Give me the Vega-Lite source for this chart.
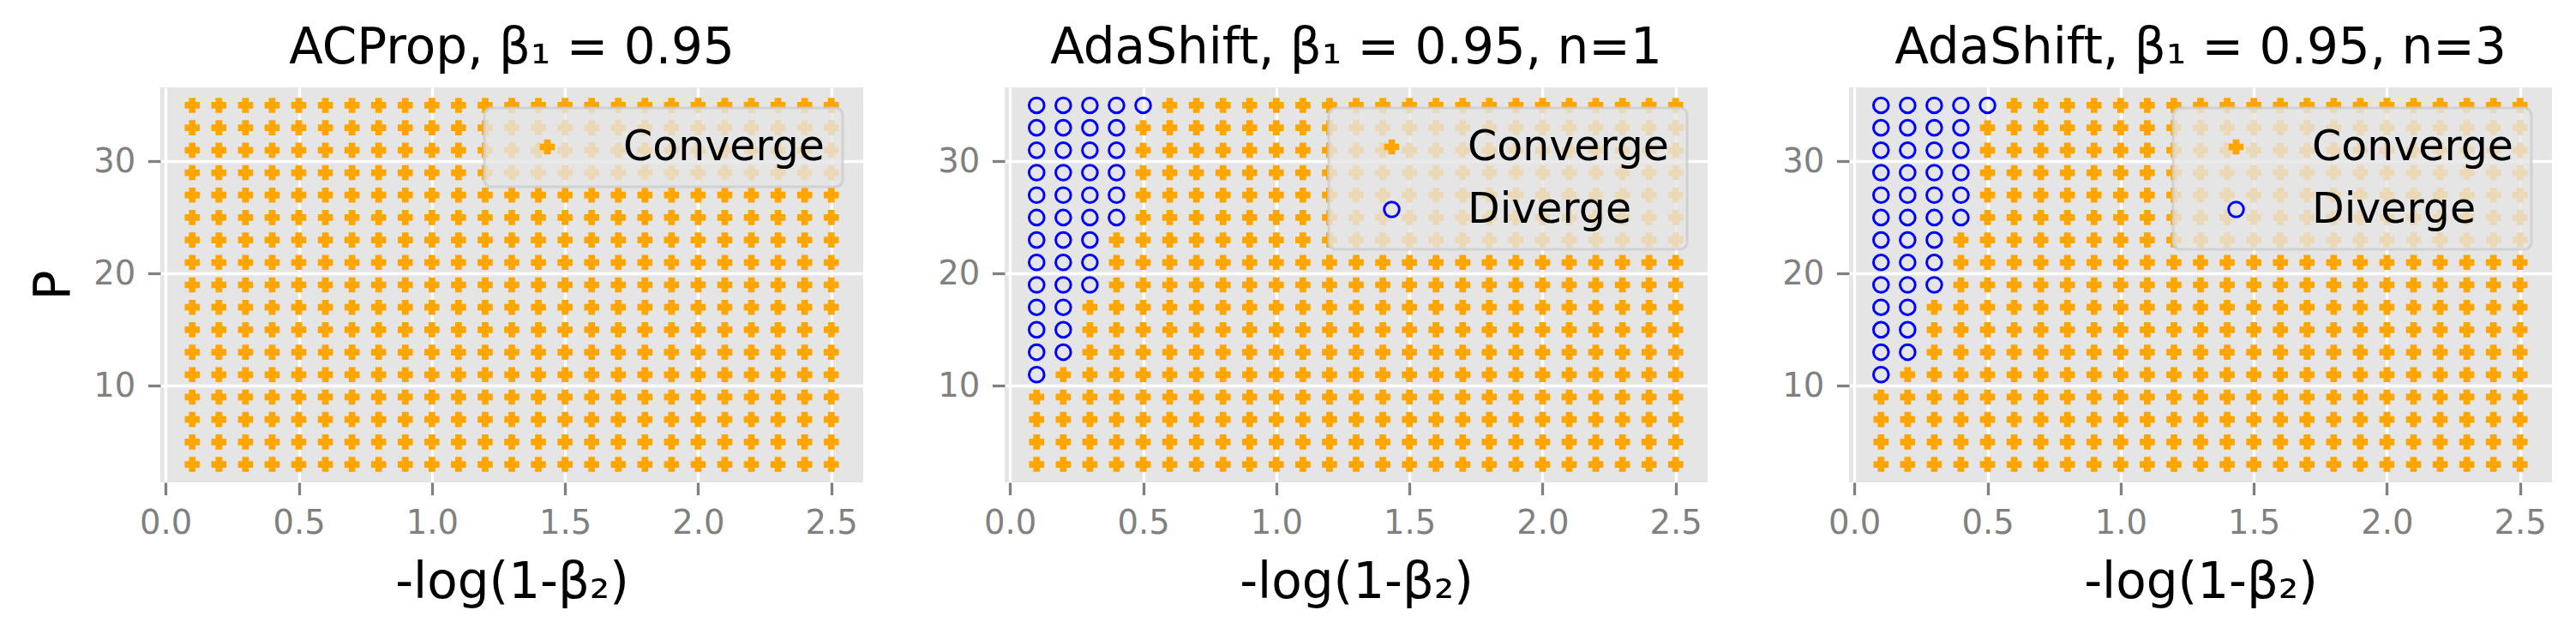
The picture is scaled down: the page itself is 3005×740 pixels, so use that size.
{
"$schema": "https://vega.github.io/schema/vega-lite/v6.json",
"padding": {"left": 34, "top": 28, "right": 29, "bottom": 30},
"background": "white",
"config": {
"font": "DejaVu Sans",
"view": {"fill": "#E5E5E5", "stroke": null},
"axis": {"domain": false, "grid": true, "gridColor": "white", "gridWidth": 3.3, "tickColor": "#808080", "tickSize": 14.6, "tickWidth": 3.3, "labelColor": "#808080", "labelFontSize": 38.5, "labelPadding": 14.6, "labelFont": "DejaVu Sans", "titleFont": "DejaVu Sans", "titleFontSize": 58, "titleFontWeight": "normal", "titleColor": "black"},
"axisX": {"titlePadding": 22},
"axisY": {"titlePadding": 16},
"title": {"font": "DejaVu Sans", "fontSize": 58, "fontWeight": "normal", "color": "black", "baseline": "alphabetic", "offset": 16, "anchor": "middle", "frame": "group"},
"legend": {"orient": "top-right", "offset": 24, "padding": 21, "fillColor": "rgba(229,229,229,0.8)", "strokeColor": "rgba(204,204,204,0.8)", "strokeWidth": 3, "cornerRadius": 8, "labelFontSize": 49, "labelFont": "DejaVu Sans", "labelColor": "black", "labelLimit": 0, "symbolSize": 310, "symbolStrokeWidth": 3, "symbolOffset": 28, "labelOffset": 64, "rowPadding": 23, "title": null}
},
"datasets": {"grid": [
{"x":0.1,"y":3,"a":"C","b":"C","c":"C"},{"x":0.1,"y":5,"a":"C","b":"C","c":"C"},{"x":0.1,"y":7,"a":"C","b":"C","c":"C"},{"x":0.1,"y":9,"a":"C","b":"C","c":"C"},{"x":0.1,"y":11,"a":"C","b":"D","c":"D"},{"x":0.1,"y":13,"a":"C","b":"D","c":"D"},{"x":0.1,"y":15,"a":"C","b":"D","c":"D"},{"x":0.1,"y":17,"a":"C","b":"D","c":"D"},{"x":0.1,"y":19,"a":"C","b":"D","c":"D"},{"x":0.1,"y":21,"a":"C","b":"D","c":"D"},{"x":0.1,"y":23,"a":"C","b":"D","c":"D"},{"x":0.1,"y":25,"a":"C","b":"D","c":"D"},{"x":0.1,"y":27,"a":"C","b":"D","c":"D"},{"x":0.1,"y":29,"a":"C","b":"D","c":"D"},{"x":0.1,"y":31,"a":"C","b":"D","c":"D"},{"x":0.1,"y":33,"a":"C","b":"D","c":"D"},{"x":0.1,"y":35,"a":"C","b":"D","c":"D"},
{"x":0.2,"y":3,"a":"C","b":"C","c":"C"},{"x":0.2,"y":5,"a":"C","b":"C","c":"C"},{"x":0.2,"y":7,"a":"C","b":"C","c":"C"},{"x":0.2,"y":9,"a":"C","b":"C","c":"C"},{"x":0.2,"y":11,"a":"C","b":"C","c":"C"},{"x":0.2,"y":13,"a":"C","b":"D","c":"D"},{"x":0.2,"y":15,"a":"C","b":"D","c":"D"},{"x":0.2,"y":17,"a":"C","b":"D","c":"D"},{"x":0.2,"y":19,"a":"C","b":"D","c":"D"},{"x":0.2,"y":21,"a":"C","b":"D","c":"D"},{"x":0.2,"y":23,"a":"C","b":"D","c":"D"},{"x":0.2,"y":25,"a":"C","b":"D","c":"D"},{"x":0.2,"y":27,"a":"C","b":"D","c":"D"},{"x":0.2,"y":29,"a":"C","b":"D","c":"D"},{"x":0.2,"y":31,"a":"C","b":"D","c":"D"},{"x":0.2,"y":33,"a":"C","b":"D","c":"D"},{"x":0.2,"y":35,"a":"C","b":"D","c":"D"},
{"x":0.3,"y":3,"a":"C","b":"C","c":"C"},{"x":0.3,"y":5,"a":"C","b":"C","c":"C"},{"x":0.3,"y":7,"a":"C","b":"C","c":"C"},{"x":0.3,"y":9,"a":"C","b":"C","c":"C"},{"x":0.3,"y":11,"a":"C","b":"C","c":"C"},{"x":0.3,"y":13,"a":"C","b":"C","c":"C"},{"x":0.3,"y":15,"a":"C","b":"C","c":"C"},{"x":0.3,"y":17,"a":"C","b":"C","c":"C"},{"x":0.3,"y":19,"a":"C","b":"D","c":"D"},{"x":0.3,"y":21,"a":"C","b":"D","c":"D"},{"x":0.3,"y":23,"a":"C","b":"D","c":"D"},{"x":0.3,"y":25,"a":"C","b":"D","c":"D"},{"x":0.3,"y":27,"a":"C","b":"D","c":"D"},{"x":0.3,"y":29,"a":"C","b":"D","c":"D"},{"x":0.3,"y":31,"a":"C","b":"D","c":"D"},{"x":0.3,"y":33,"a":"C","b":"D","c":"D"},{"x":0.3,"y":35,"a":"C","b":"D","c":"D"},
{"x":0.4,"y":3,"a":"C","b":"C","c":"C"},{"x":0.4,"y":5,"a":"C","b":"C","c":"C"},{"x":0.4,"y":7,"a":"C","b":"C","c":"C"},{"x":0.4,"y":9,"a":"C","b":"C","c":"C"},{"x":0.4,"y":11,"a":"C","b":"C","c":"C"},{"x":0.4,"y":13,"a":"C","b":"C","c":"C"},{"x":0.4,"y":15,"a":"C","b":"C","c":"C"},{"x":0.4,"y":17,"a":"C","b":"C","c":"C"},{"x":0.4,"y":19,"a":"C","b":"C","c":"C"},{"x":0.4,"y":21,"a":"C","b":"C","c":"C"},{"x":0.4,"y":23,"a":"C","b":"C","c":"C"},{"x":0.4,"y":25,"a":"C","b":"D","c":"D"},{"x":0.4,"y":27,"a":"C","b":"D","c":"D"},{"x":0.4,"y":29,"a":"C","b":"D","c":"D"},{"x":0.4,"y":31,"a":"C","b":"D","c":"D"},{"x":0.4,"y":33,"a":"C","b":"D","c":"D"},{"x":0.4,"y":35,"a":"C","b":"D","c":"D"},
{"x":0.5,"y":3,"a":"C","b":"C","c":"C"},{"x":0.5,"y":5,"a":"C","b":"C","c":"C"},{"x":0.5,"y":7,"a":"C","b":"C","c":"C"},{"x":0.5,"y":9,"a":"C","b":"C","c":"C"},{"x":0.5,"y":11,"a":"C","b":"C","c":"C"},{"x":0.5,"y":13,"a":"C","b":"C","c":"C"},{"x":0.5,"y":15,"a":"C","b":"C","c":"C"},{"x":0.5,"y":17,"a":"C","b":"C","c":"C"},{"x":0.5,"y":19,"a":"C","b":"C","c":"C"},{"x":0.5,"y":21,"a":"C","b":"C","c":"C"},{"x":0.5,"y":23,"a":"C","b":"C","c":"C"},{"x":0.5,"y":25,"a":"C","b":"C","c":"C"},{"x":0.5,"y":27,"a":"C","b":"C","c":"C"},{"x":0.5,"y":29,"a":"C","b":"C","c":"C"},{"x":0.5,"y":31,"a":"C","b":"C","c":"C"},{"x":0.5,"y":33,"a":"C","b":"C","c":"C"},{"x":0.5,"y":35,"a":"C","b":"D","c":"D"},
{"x":0.6,"y":3,"a":"C","b":"C","c":"C"},{"x":0.6,"y":5,"a":"C","b":"C","c":"C"},{"x":0.6,"y":7,"a":"C","b":"C","c":"C"},{"x":0.6,"y":9,"a":"C","b":"C","c":"C"},{"x":0.6,"y":11,"a":"C","b":"C","c":"C"},{"x":0.6,"y":13,"a":"C","b":"C","c":"C"},{"x":0.6,"y":15,"a":"C","b":"C","c":"C"},{"x":0.6,"y":17,"a":"C","b":"C","c":"C"},{"x":0.6,"y":19,"a":"C","b":"C","c":"C"},{"x":0.6,"y":21,"a":"C","b":"C","c":"C"},{"x":0.6,"y":23,"a":"C","b":"C","c":"C"},{"x":0.6,"y":25,"a":"C","b":"C","c":"C"},{"x":0.6,"y":27,"a":"C","b":"C","c":"C"},{"x":0.6,"y":29,"a":"C","b":"C","c":"C"},{"x":0.6,"y":31,"a":"C","b":"C","c":"C"},{"x":0.6,"y":33,"a":"C","b":"C","c":"C"},{"x":0.6,"y":35,"a":"C","b":"C","c":"C"},
{"x":0.7,"y":3,"a":"C","b":"C","c":"C"},{"x":0.7,"y":5,"a":"C","b":"C","c":"C"},{"x":0.7,"y":7,"a":"C","b":"C","c":"C"},{"x":0.7,"y":9,"a":"C","b":"C","c":"C"},{"x":0.7,"y":11,"a":"C","b":"C","c":"C"},{"x":0.7,"y":13,"a":"C","b":"C","c":"C"},{"x":0.7,"y":15,"a":"C","b":"C","c":"C"},{"x":0.7,"y":17,"a":"C","b":"C","c":"C"},{"x":0.7,"y":19,"a":"C","b":"C","c":"C"},{"x":0.7,"y":21,"a":"C","b":"C","c":"C"},{"x":0.7,"y":23,"a":"C","b":"C","c":"C"},{"x":0.7,"y":25,"a":"C","b":"C","c":"C"},{"x":0.7,"y":27,"a":"C","b":"C","c":"C"},{"x":0.7,"y":29,"a":"C","b":"C","c":"C"},{"x":0.7,"y":31,"a":"C","b":"C","c":"C"},{"x":0.7,"y":33,"a":"C","b":"C","c":"C"},{"x":0.7,"y":35,"a":"C","b":"C","c":"C"},
{"x":0.8,"y":3,"a":"C","b":"C","c":"C"},{"x":0.8,"y":5,"a":"C","b":"C","c":"C"},{"x":0.8,"y":7,"a":"C","b":"C","c":"C"},{"x":0.8,"y":9,"a":"C","b":"C","c":"C"},{"x":0.8,"y":11,"a":"C","b":"C","c":"C"},{"x":0.8,"y":13,"a":"C","b":"C","c":"C"},{"x":0.8,"y":15,"a":"C","b":"C","c":"C"},{"x":0.8,"y":17,"a":"C","b":"C","c":"C"},{"x":0.8,"y":19,"a":"C","b":"C","c":"C"},{"x":0.8,"y":21,"a":"C","b":"C","c":"C"},{"x":0.8,"y":23,"a":"C","b":"C","c":"C"},{"x":0.8,"y":25,"a":"C","b":"C","c":"C"},{"x":0.8,"y":27,"a":"C","b":"C","c":"C"},{"x":0.8,"y":29,"a":"C","b":"C","c":"C"},{"x":0.8,"y":31,"a":"C","b":"C","c":"C"},{"x":0.8,"y":33,"a":"C","b":"C","c":"C"},{"x":0.8,"y":35,"a":"C","b":"C","c":"C"},
{"x":0.9,"y":3,"a":"C","b":"C","c":"C"},{"x":0.9,"y":5,"a":"C","b":"C","c":"C"},{"x":0.9,"y":7,"a":"C","b":"C","c":"C"},{"x":0.9,"y":9,"a":"C","b":"C","c":"C"},{"x":0.9,"y":11,"a":"C","b":"C","c":"C"},{"x":0.9,"y":13,"a":"C","b":"C","c":"C"},{"x":0.9,"y":15,"a":"C","b":"C","c":"C"},{"x":0.9,"y":17,"a":"C","b":"C","c":"C"},{"x":0.9,"y":19,"a":"C","b":"C","c":"C"},{"x":0.9,"y":21,"a":"C","b":"C","c":"C"},{"x":0.9,"y":23,"a":"C","b":"C","c":"C"},{"x":0.9,"y":25,"a":"C","b":"C","c":"C"},{"x":0.9,"y":27,"a":"C","b":"C","c":"C"},{"x":0.9,"y":29,"a":"C","b":"C","c":"C"},{"x":0.9,"y":31,"a":"C","b":"C","c":"C"},{"x":0.9,"y":33,"a":"C","b":"C","c":"C"},{"x":0.9,"y":35,"a":"C","b":"C","c":"C"},
{"x":1.0,"y":3,"a":"C","b":"C","c":"C"},{"x":1.0,"y":5,"a":"C","b":"C","c":"C"},{"x":1.0,"y":7,"a":"C","b":"C","c":"C"},{"x":1.0,"y":9,"a":"C","b":"C","c":"C"},{"x":1.0,"y":11,"a":"C","b":"C","c":"C"},{"x":1.0,"y":13,"a":"C","b":"C","c":"C"},{"x":1.0,"y":15,"a":"C","b":"C","c":"C"},{"x":1.0,"y":17,"a":"C","b":"C","c":"C"},{"x":1.0,"y":19,"a":"C","b":"C","c":"C"},{"x":1.0,"y":21,"a":"C","b":"C","c":"C"},{"x":1.0,"y":23,"a":"C","b":"C","c":"C"},{"x":1.0,"y":25,"a":"C","b":"C","c":"C"},{"x":1.0,"y":27,"a":"C","b":"C","c":"C"},{"x":1.0,"y":29,"a":"C","b":"C","c":"C"},{"x":1.0,"y":31,"a":"C","b":"C","c":"C"},{"x":1.0,"y":33,"a":"C","b":"C","c":"C"},{"x":1.0,"y":35,"a":"C","b":"C","c":"C"},
{"x":1.1,"y":3,"a":"C","b":"C","c":"C"},{"x":1.1,"y":5,"a":"C","b":"C","c":"C"},{"x":1.1,"y":7,"a":"C","b":"C","c":"C"},{"x":1.1,"y":9,"a":"C","b":"C","c":"C"},{"x":1.1,"y":11,"a":"C","b":"C","c":"C"},{"x":1.1,"y":13,"a":"C","b":"C","c":"C"},{"x":1.1,"y":15,"a":"C","b":"C","c":"C"},{"x":1.1,"y":17,"a":"C","b":"C","c":"C"},{"x":1.1,"y":19,"a":"C","b":"C","c":"C"},{"x":1.1,"y":21,"a":"C","b":"C","c":"C"},{"x":1.1,"y":23,"a":"C","b":"C","c":"C"},{"x":1.1,"y":25,"a":"C","b":"C","c":"C"},{"x":1.1,"y":27,"a":"C","b":"C","c":"C"},{"x":1.1,"y":29,"a":"C","b":"C","c":"C"},{"x":1.1,"y":31,"a":"C","b":"C","c":"C"},{"x":1.1,"y":33,"a":"C","b":"C","c":"C"},{"x":1.1,"y":35,"a":"C","b":"C","c":"C"},
{"x":1.2,"y":3,"a":"C","b":"C","c":"C"},{"x":1.2,"y":5,"a":"C","b":"C","c":"C"},{"x":1.2,"y":7,"a":"C","b":"C","c":"C"},{"x":1.2,"y":9,"a":"C","b":"C","c":"C"},{"x":1.2,"y":11,"a":"C","b":"C","c":"C"},{"x":1.2,"y":13,"a":"C","b":"C","c":"C"},{"x":1.2,"y":15,"a":"C","b":"C","c":"C"},{"x":1.2,"y":17,"a":"C","b":"C","c":"C"},{"x":1.2,"y":19,"a":"C","b":"C","c":"C"},{"x":1.2,"y":21,"a":"C","b":"C","c":"C"},{"x":1.2,"y":23,"a":"C","b":"C","c":"C"},{"x":1.2,"y":25,"a":"C","b":"C","c":"C"},{"x":1.2,"y":27,"a":"C","b":"C","c":"C"},{"x":1.2,"y":29,"a":"C","b":"C","c":"C"},{"x":1.2,"y":31,"a":"C","b":"C","c":"C"},{"x":1.2,"y":33,"a":"C","b":"C","c":"C"},{"x":1.2,"y":35,"a":"C","b":"C","c":"C"},
{"x":1.3,"y":3,"a":"C","b":"C","c":"C"},{"x":1.3,"y":5,"a":"C","b":"C","c":"C"},{"x":1.3,"y":7,"a":"C","b":"C","c":"C"},{"x":1.3,"y":9,"a":"C","b":"C","c":"C"},{"x":1.3,"y":11,"a":"C","b":"C","c":"C"},{"x":1.3,"y":13,"a":"C","b":"C","c":"C"},{"x":1.3,"y":15,"a":"C","b":"C","c":"C"},{"x":1.3,"y":17,"a":"C","b":"C","c":"C"},{"x":1.3,"y":19,"a":"C","b":"C","c":"C"},{"x":1.3,"y":21,"a":"C","b":"C","c":"C"},{"x":1.3,"y":23,"a":"C","b":"C","c":"C"},{"x":1.3,"y":25,"a":"C","b":"C","c":"C"},{"x":1.3,"y":27,"a":"C","b":"C","c":"C"},{"x":1.3,"y":29,"a":"C","b":"C","c":"C"},{"x":1.3,"y":31,"a":"C","b":"C","c":"C"},{"x":1.3,"y":33,"a":"C","b":"C","c":"C"},{"x":1.3,"y":35,"a":"C","b":"C","c":"C"},
{"x":1.4,"y":3,"a":"C","b":"C","c":"C"},{"x":1.4,"y":5,"a":"C","b":"C","c":"C"},{"x":1.4,"y":7,"a":"C","b":"C","c":"C"},{"x":1.4,"y":9,"a":"C","b":"C","c":"C"},{"x":1.4,"y":11,"a":"C","b":"C","c":"C"},{"x":1.4,"y":13,"a":"C","b":"C","c":"C"},{"x":1.4,"y":15,"a":"C","b":"C","c":"C"},{"x":1.4,"y":17,"a":"C","b":"C","c":"C"},{"x":1.4,"y":19,"a":"C","b":"C","c":"C"},{"x":1.4,"y":21,"a":"C","b":"C","c":"C"},{"x":1.4,"y":23,"a":"C","b":"C","c":"C"},{"x":1.4,"y":25,"a":"C","b":"C","c":"C"},{"x":1.4,"y":27,"a":"C","b":"C","c":"C"},{"x":1.4,"y":29,"a":"C","b":"C","c":"C"},{"x":1.4,"y":31,"a":"C","b":"C","c":"C"},{"x":1.4,"y":33,"a":"C","b":"C","c":"C"},{"x":1.4,"y":35,"a":"C","b":"C","c":"C"},
{"x":1.5,"y":3,"a":"C","b":"C","c":"C"},{"x":1.5,"y":5,"a":"C","b":"C","c":"C"},{"x":1.5,"y":7,"a":"C","b":"C","c":"C"},{"x":1.5,"y":9,"a":"C","b":"C","c":"C"},{"x":1.5,"y":11,"a":"C","b":"C","c":"C"},{"x":1.5,"y":13,"a":"C","b":"C","c":"C"},{"x":1.5,"y":15,"a":"C","b":"C","c":"C"},{"x":1.5,"y":17,"a":"C","b":"C","c":"C"},{"x":1.5,"y":19,"a":"C","b":"C","c":"C"},{"x":1.5,"y":21,"a":"C","b":"C","c":"C"},{"x":1.5,"y":23,"a":"C","b":"C","c":"C"},{"x":1.5,"y":25,"a":"C","b":"C","c":"C"},{"x":1.5,"y":27,"a":"C","b":"C","c":"C"},{"x":1.5,"y":29,"a":"C","b":"C","c":"C"},{"x":1.5,"y":31,"a":"C","b":"C","c":"C"},{"x":1.5,"y":33,"a":"C","b":"C","c":"C"},{"x":1.5,"y":35,"a":"C","b":"C","c":"C"},
{"x":1.6,"y":3,"a":"C","b":"C","c":"C"},{"x":1.6,"y":5,"a":"C","b":"C","c":"C"},{"x":1.6,"y":7,"a":"C","b":"C","c":"C"},{"x":1.6,"y":9,"a":"C","b":"C","c":"C"},{"x":1.6,"y":11,"a":"C","b":"C","c":"C"},{"x":1.6,"y":13,"a":"C","b":"C","c":"C"},{"x":1.6,"y":15,"a":"C","b":"C","c":"C"},{"x":1.6,"y":17,"a":"C","b":"C","c":"C"},{"x":1.6,"y":19,"a":"C","b":"C","c":"C"},{"x":1.6,"y":21,"a":"C","b":"C","c":"C"},{"x":1.6,"y":23,"a":"C","b":"C","c":"C"},{"x":1.6,"y":25,"a":"C","b":"C","c":"C"},{"x":1.6,"y":27,"a":"C","b":"C","c":"C"},{"x":1.6,"y":29,"a":"C","b":"C","c":"C"},{"x":1.6,"y":31,"a":"C","b":"C","c":"C"},{"x":1.6,"y":33,"a":"C","b":"C","c":"C"},{"x":1.6,"y":35,"a":"C","b":"C","c":"C"},
{"x":1.7,"y":3,"a":"C","b":"C","c":"C"},{"x":1.7,"y":5,"a":"C","b":"C","c":"C"},{"x":1.7,"y":7,"a":"C","b":"C","c":"C"},{"x":1.7,"y":9,"a":"C","b":"C","c":"C"},{"x":1.7,"y":11,"a":"C","b":"C","c":"C"},{"x":1.7,"y":13,"a":"C","b":"C","c":"C"},{"x":1.7,"y":15,"a":"C","b":"C","c":"C"},{"x":1.7,"y":17,"a":"C","b":"C","c":"C"},{"x":1.7,"y":19,"a":"C","b":"C","c":"C"},{"x":1.7,"y":21,"a":"C","b":"C","c":"C"},{"x":1.7,"y":23,"a":"C","b":"C","c":"C"},{"x":1.7,"y":25,"a":"C","b":"C","c":"C"},{"x":1.7,"y":27,"a":"C","b":"C","c":"C"},{"x":1.7,"y":29,"a":"C","b":"C","c":"C"},{"x":1.7,"y":31,"a":"C","b":"C","c":"C"},{"x":1.7,"y":33,"a":"C","b":"C","c":"C"},{"x":1.7,"y":35,"a":"C","b":"C","c":"C"},
{"x":1.8,"y":3,"a":"C","b":"C","c":"C"},{"x":1.8,"y":5,"a":"C","b":"C","c":"C"},{"x":1.8,"y":7,"a":"C","b":"C","c":"C"},{"x":1.8,"y":9,"a":"C","b":"C","c":"C"},{"x":1.8,"y":11,"a":"C","b":"C","c":"C"},{"x":1.8,"y":13,"a":"C","b":"C","c":"C"},{"x":1.8,"y":15,"a":"C","b":"C","c":"C"},{"x":1.8,"y":17,"a":"C","b":"C","c":"C"},{"x":1.8,"y":19,"a":"C","b":"C","c":"C"},{"x":1.8,"y":21,"a":"C","b":"C","c":"C"},{"x":1.8,"y":23,"a":"C","b":"C","c":"C"},{"x":1.8,"y":25,"a":"C","b":"C","c":"C"},{"x":1.8,"y":27,"a":"C","b":"C","c":"C"},{"x":1.8,"y":29,"a":"C","b":"C","c":"C"},{"x":1.8,"y":31,"a":"C","b":"C","c":"C"},{"x":1.8,"y":33,"a":"C","b":"C","c":"C"},{"x":1.8,"y":35,"a":"C","b":"C","c":"C"},
{"x":1.9,"y":3,"a":"C","b":"C","c":"C"},{"x":1.9,"y":5,"a":"C","b":"C","c":"C"},{"x":1.9,"y":7,"a":"C","b":"C","c":"C"},{"x":1.9,"y":9,"a":"C","b":"C","c":"C"},{"x":1.9,"y":11,"a":"C","b":"C","c":"C"},{"x":1.9,"y":13,"a":"C","b":"C","c":"C"},{"x":1.9,"y":15,"a":"C","b":"C","c":"C"},{"x":1.9,"y":17,"a":"C","b":"C","c":"C"},{"x":1.9,"y":19,"a":"C","b":"C","c":"C"},{"x":1.9,"y":21,"a":"C","b":"C","c":"C"},{"x":1.9,"y":23,"a":"C","b":"C","c":"C"},{"x":1.9,"y":25,"a":"C","b":"C","c":"C"},{"x":1.9,"y":27,"a":"C","b":"C","c":"C"},{"x":1.9,"y":29,"a":"C","b":"C","c":"C"},{"x":1.9,"y":31,"a":"C","b":"C","c":"C"},{"x":1.9,"y":33,"a":"C","b":"C","c":"C"},{"x":1.9,"y":35,"a":"C","b":"C","c":"C"},
{"x":2.0,"y":3,"a":"C","b":"C","c":"C"},{"x":2.0,"y":5,"a":"C","b":"C","c":"C"},{"x":2.0,"y":7,"a":"C","b":"C","c":"C"},{"x":2.0,"y":9,"a":"C","b":"C","c":"C"},{"x":2.0,"y":11,"a":"C","b":"C","c":"C"},{"x":2.0,"y":13,"a":"C","b":"C","c":"C"},{"x":2.0,"y":15,"a":"C","b":"C","c":"C"},{"x":2.0,"y":17,"a":"C","b":"C","c":"C"},{"x":2.0,"y":19,"a":"C","b":"C","c":"C"},{"x":2.0,"y":21,"a":"C","b":"C","c":"C"},{"x":2.0,"y":23,"a":"C","b":"C","c":"C"},{"x":2.0,"y":25,"a":"C","b":"C","c":"C"},{"x":2.0,"y":27,"a":"C","b":"C","c":"C"},{"x":2.0,"y":29,"a":"C","b":"C","c":"C"},{"x":2.0,"y":31,"a":"C","b":"C","c":"C"},{"x":2.0,"y":33,"a":"C","b":"C","c":"C"},{"x":2.0,"y":35,"a":"C","b":"C","c":"C"},
{"x":2.1,"y":3,"a":"C","b":"C","c":"C"},{"x":2.1,"y":5,"a":"C","b":"C","c":"C"},{"x":2.1,"y":7,"a":"C","b":"C","c":"C"},{"x":2.1,"y":9,"a":"C","b":"C","c":"C"},{"x":2.1,"y":11,"a":"C","b":"C","c":"C"},{"x":2.1,"y":13,"a":"C","b":"C","c":"C"},{"x":2.1,"y":15,"a":"C","b":"C","c":"C"},{"x":2.1,"y":17,"a":"C","b":"C","c":"C"},{"x":2.1,"y":19,"a":"C","b":"C","c":"C"},{"x":2.1,"y":21,"a":"C","b":"C","c":"C"},{"x":2.1,"y":23,"a":"C","b":"C","c":"C"},{"x":2.1,"y":25,"a":"C","b":"C","c":"C"},{"x":2.1,"y":27,"a":"C","b":"C","c":"C"},{"x":2.1,"y":29,"a":"C","b":"C","c":"C"},{"x":2.1,"y":31,"a":"C","b":"C","c":"C"},{"x":2.1,"y":33,"a":"C","b":"C","c":"C"},{"x":2.1,"y":35,"a":"C","b":"C","c":"C"},
{"x":2.2,"y":3,"a":"C","b":"C","c":"C"},{"x":2.2,"y":5,"a":"C","b":"C","c":"C"},{"x":2.2,"y":7,"a":"C","b":"C","c":"C"},{"x":2.2,"y":9,"a":"C","b":"C","c":"C"},{"x":2.2,"y":11,"a":"C","b":"C","c":"C"},{"x":2.2,"y":13,"a":"C","b":"C","c":"C"},{"x":2.2,"y":15,"a":"C","b":"C","c":"C"},{"x":2.2,"y":17,"a":"C","b":"C","c":"C"},{"x":2.2,"y":19,"a":"C","b":"C","c":"C"},{"x":2.2,"y":21,"a":"C","b":"C","c":"C"},{"x":2.2,"y":23,"a":"C","b":"C","c":"C"},{"x":2.2,"y":25,"a":"C","b":"C","c":"C"},{"x":2.2,"y":27,"a":"C","b":"C","c":"C"},{"x":2.2,"y":29,"a":"C","b":"C","c":"C"},{"x":2.2,"y":31,"a":"C","b":"C","c":"C"},{"x":2.2,"y":33,"a":"C","b":"C","c":"C"},{"x":2.2,"y":35,"a":"C","b":"C","c":"C"},
{"x":2.3,"y":3,"a":"C","b":"C","c":"C"},{"x":2.3,"y":5,"a":"C","b":"C","c":"C"},{"x":2.3,"y":7,"a":"C","b":"C","c":"C"},{"x":2.3,"y":9,"a":"C","b":"C","c":"C"},{"x":2.3,"y":11,"a":"C","b":"C","c":"C"},{"x":2.3,"y":13,"a":"C","b":"C","c":"C"},{"x":2.3,"y":15,"a":"C","b":"C","c":"C"},{"x":2.3,"y":17,"a":"C","b":"C","c":"C"},{"x":2.3,"y":19,"a":"C","b":"C","c":"C"},{"x":2.3,"y":21,"a":"C","b":"C","c":"C"},{"x":2.3,"y":23,"a":"C","b":"C","c":"C"},{"x":2.3,"y":25,"a":"C","b":"C","c":"C"},{"x":2.3,"y":27,"a":"C","b":"C","c":"C"},{"x":2.3,"y":29,"a":"C","b":"C","c":"C"},{"x":2.3,"y":31,"a":"C","b":"C","c":"C"},{"x":2.3,"y":33,"a":"C","b":"C","c":"C"},{"x":2.3,"y":35,"a":"C","b":"C","c":"C"},
{"x":2.4,"y":3,"a":"C","b":"C","c":"C"},{"x":2.4,"y":5,"a":"C","b":"C","c":"C"},{"x":2.4,"y":7,"a":"C","b":"C","c":"C"},{"x":2.4,"y":9,"a":"C","b":"C","c":"C"},{"x":2.4,"y":11,"a":"C","b":"C","c":"C"},{"x":2.4,"y":13,"a":"C","b":"C","c":"C"},{"x":2.4,"y":15,"a":"C","b":"C","c":"C"},{"x":2.4,"y":17,"a":"C","b":"C","c":"C"},{"x":2.4,"y":19,"a":"C","b":"C","c":"C"},{"x":2.4,"y":21,"a":"C","b":"C","c":"C"},{"x":2.4,"y":23,"a":"C","b":"C","c":"C"},{"x":2.4,"y":25,"a":"C","b":"C","c":"C"},{"x":2.4,"y":27,"a":"C","b":"C","c":"C"},{"x":2.4,"y":29,"a":"C","b":"C","c":"C"},{"x":2.4,"y":31,"a":"C","b":"C","c":"C"},{"x":2.4,"y":33,"a":"C","b":"C","c":"C"},{"x":2.4,"y":35,"a":"C","b":"C","c":"C"},
{"x":2.5,"y":3,"a":"C","b":"C","c":"C"},{"x":2.5,"y":5,"a":"C","b":"C","c":"C"},{"x":2.5,"y":7,"a":"C","b":"C","c":"C"},{"x":2.5,"y":9,"a":"C","b":"C","c":"C"},{"x":2.5,"y":11,"a":"C","b":"C","c":"C"},{"x":2.5,"y":13,"a":"C","b":"C","c":"C"},{"x":2.5,"y":15,"a":"C","b":"C","c":"C"},{"x":2.5,"y":17,"a":"C","b":"C","c":"C"},{"x":2.5,"y":19,"a":"C","b":"C","c":"C"},{"x":2.5,"y":21,"a":"C","b":"C","c":"C"},{"x":2.5,"y":23,"a":"C","b":"C","c":"C"},{"x":2.5,"y":25,"a":"C","b":"C","c":"C"},{"x":2.5,"y":27,"a":"C","b":"C","c":"C"},{"x":2.5,"y":29,"a":"C","b":"C","c":"C"},{"x":2.5,"y":31,"a":"C","b":"C","c":"C"},{"x":2.5,"y":33,"a":"C","b":"C","c":"C"},{"x":2.5,"y":35,"a":"C","b":"C","c":"C"}
]},
"bounds": "flush",
"spacing": 165,
"resolve": {"scale": {"shape": "independent", "fill": "independent", "stroke": "independent"}, "legend": {"shape": "independent", "fill": "independent", "stroke": "independent"}},
"hconcat": [
{
"width": 820, "height": 461,
"title": "ACProp, β₁ = 0.95",
"data": {"name": "grid"},
"mark": {"type": "point", "filled": true, "opacity": 1, "size": 310, "strokeWidth": 3},
"encoding": {
"x": {"field": "x", "type": "quantitative", "scale": {"domain": [-0.02, 2.62], "nice": false, "zero": false}, "axis": {"values": [0, 0.5, 1, 1.5, 2, 2.5], "format": ".1f", "title": "-log(1-β₂)"}},
"y": {"field": "y", "type": "quantitative", "scale": {"domain": [1.4, 36.6], "nice": false, "zero": false}, "axis": {"values": [10, 20, 30], "title": "P"}},
"shape": {"field": "a", "type": "nominal", "scale": {"domain": ["C"], "range": ["M-0.44,-1H0.44V-0.44H1V0.44H0.44V1H-0.44V0.44H-1V-0.44H-0.44Z"]}, "legend": {"labelExpr": "datum.label == 'C' ? 'Converge' : 'Diverge'"}},
"fill": {"field": "a", "type": "nominal", "scale": {"domain": ["C"], "range": ["#FFA500"]}, "legend": {"labelExpr": "datum.label == 'C' ? 'Converge' : 'Diverge'"}},
"stroke": {"field": "a", "type": "nominal", "scale": {"domain": ["C"], "range": ["transparent"]}, "legend": {"labelExpr": "datum.label == 'C' ? 'Converge' : 'Diverge'"}}
}
},
{
"width": 820, "height": 461,
"title": "AdaShift, β₁ = 0.95, n=1",
"data": {"name": "grid"},
"mark": {"type": "point", "filled": true, "opacity": 1, "size": 310, "strokeWidth": 3},
"encoding": {
"x": {"field": "x", "type": "quantitative", "scale": {"domain": [-0.02, 2.62], "nice": false, "zero": false}, "axis": {"values": [0, 0.5, 1, 1.5, 2, 2.5], "format": ".1f", "title": "-log(1-β₂)"}},
"y": {"field": "y", "type": "quantitative", "scale": {"domain": [1.4, 36.6], "nice": false, "zero": false}, "axis": {"values": [10, 20, 30], "title": null}},
"shape": {"field": "b", "type": "nominal", "scale": {"domain": ["C", "D"], "range": ["M-0.44,-1H0.44V-0.44H1V0.44H0.44V1H-0.44V0.44H-1V-0.44H-0.44Z", "circle"]}, "legend": {"labelExpr": "datum.label == 'C' ? 'Converge' : 'Diverge'"}},
"fill": {"field": "b", "type": "nominal", "scale": {"domain": ["C", "D"], "range": ["#FFA500", "transparent"]}, "legend": {"labelExpr": "datum.label == 'C' ? 'Converge' : 'Diverge'"}},
"stroke": {"field": "b", "type": "nominal", "scale": {"domain": ["C", "D"], "range": ["transparent", "#0000FF"]}, "legend": {"labelExpr": "datum.label == 'C' ? 'Converge' : 'Diverge'"}}
}
},
{
"width": 820, "height": 461,
"title": "AdaShift, β₁ = 0.95, n=3",
"data": {"name": "grid"},
"mark": {"type": "point", "filled": true, "opacity": 1, "size": 310, "strokeWidth": 3},
"encoding": {
"x": {"field": "x", "type": "quantitative", "scale": {"domain": [-0.02, 2.62], "nice": false, "zero": false}, "axis": {"values": [0, 0.5, 1, 1.5, 2, 2.5], "format": ".1f", "title": "-log(1-β₂)"}},
"y": {"field": "y", "type": "quantitative", "scale": {"domain": [1.4, 36.6], "nice": false, "zero": false}, "axis": {"values": [10, 20, 30], "title": null}},
"shape": {"field": "c", "type": "nominal", "scale": {"domain": ["C", "D"], "range": ["M-0.44,-1H0.44V-0.44H1V0.44H0.44V1H-0.44V0.44H-1V-0.44H-0.44Z", "circle"]}, "legend": {"labelExpr": "datum.label == 'C' ? 'Converge' : 'Diverge'"}},
"fill": {"field": "c", "type": "nominal", "scale": {"domain": ["C", "D"], "range": ["#FFA500", "transparent"]}, "legend": {"labelExpr": "datum.label == 'C' ? 'Converge' : 'Diverge'"}},
"stroke": {"field": "c", "type": "nominal", "scale": {"domain": ["C", "D"], "range": ["transparent", "#0000FF"]}, "legend": {"labelExpr": "datum.label == 'C' ? 'Converge' : 'Diverge'"}}
}
}
]
}
